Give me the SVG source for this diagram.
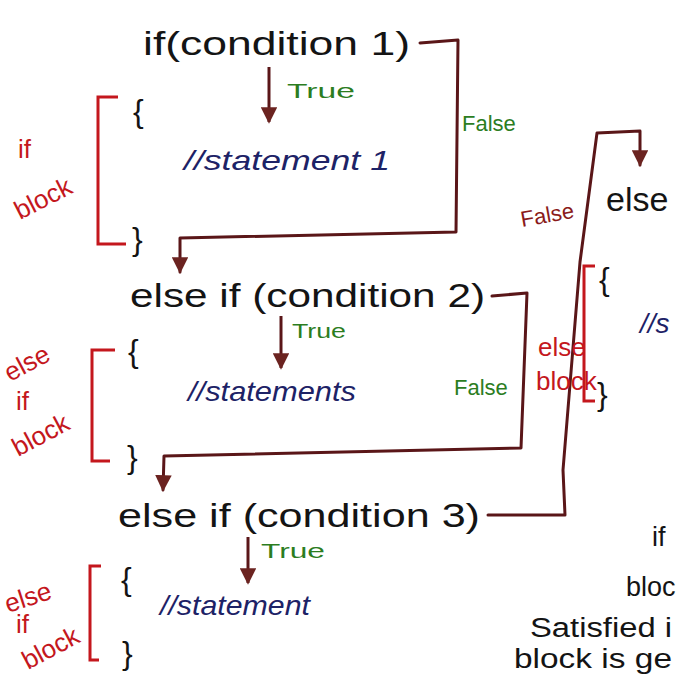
<svg xmlns="http://www.w3.org/2000/svg" width="677" height="674" viewBox="0 0 677 674">
  <defs>
    <marker id="head" viewBox="0 0 10 10" refX="9" refY="5" markerWidth="5.5" markerHeight="5.5" orient="auto" markerUnits="strokeWidth">
      <path d="M0,0 L10,5 L0,10 Z" fill="#6b2320"/>
    </marker>
    <style>
      text { font-family: "Liberation Sans", "DejaVu Sans", sans-serif; }
      .code { fill: #141414; font-size: 34px; }
      .stmt { fill: #1d2266; font-size: 28px; font-style: italic; }
      .true { fill: #2c7d1f; font-size: 21px; }
      .false { fill: #2c7d1f; font-size: 22px; }
      .lbl { fill: #c4171d; font-size: 26px; }
      .brace { fill: #141414; font-size: 32px; }
      .note { fill: #141414; font-size: 27px; }
      .edge { fill: none; stroke: #5a1618; stroke-width: 3; stroke-linejoin: round; stroke-linecap: round; }
      .arrow { fill: none; stroke: #5a1618; stroke-width: 3; }
      .bracket { fill: none; stroke: #c4171d; stroke-width: 3; stroke-linejoin: miter; }
    </style>
  </defs>

  <rect width="677" height="674" fill="#ffffff"/>

  <!-- control-flow connectors -->
  <g id="connectors">
    <!-- condition 1 false -> else if (condition 2) -->
    <path class="edge" d="M420,43 L458,40 L456,232 L180,238 L180,272" marker-end="url(#head)"/>
    <!-- condition 2 false -> else if (condition 3) -->
    <path class="edge" d="M492,296 L527,293 L521,448 L164,456 L163,490" marker-end="url(#head)"/>
    <!-- condition 3 false -> else -->
    <path class="edge" d="M488,515 L565,515 L563,470 L580,262 L597,133 L640,131 L640,165" marker-end="url(#head)"/>
    <!-- true arrows -->
    <path class="arrow" d="M269,67 L269,122" marker-end="url(#head)"/>
    <path class="arrow" d="M281,316 L281,368" marker-end="url(#head)"/>
    <path class="arrow" d="M248,537 L248,583" marker-end="url(#head)"/>
  </g>

  <!-- if (condition 1) block -->
  <g id="if-block">
    <text class="code" x="143" y="55" font-size="37" textLength="267" lengthAdjust="spacingAndGlyphs">if(condition 1)</text>
    <text class="true" x="287" y="98" textLength="68" lengthAdjust="spacingAndGlyphs">True</text>
    <text class="brace" x="133" y="122">{</text>
    <text class="stmt" x="184" y="170" textLength="206" lengthAdjust="spacingAndGlyphs">//statement 1</text>
    <text class="brace" x="132" y="250">}</text>
    <path class="bracket" d="M118,97 L98,97 L98,244 L126,244"/>
    <text class="lbl" x="18" y="158" font-size="30">if</text>
    <text class="lbl" transform="translate(20,220) rotate(-27)" font-size="29">block</text>
    <text class="false" x="462" y="131">False</text>
  </g>

  <!-- else if (condition 2) block -->
  <g id="else-if-block-1">
    <text class="code" x="130" y="307" textLength="355" lengthAdjust="spacingAndGlyphs">else if (condition 2)</text>
    <text class="true" x="292" y="338" textLength="54" lengthAdjust="spacingAndGlyphs">True</text>
    <text class="brace" x="128" y="362">{</text>
    <text class="stmt" x="188" y="401" textLength="168" lengthAdjust="spacingAndGlyphs">//statements</text>
    <text class="brace" x="127" y="468">}</text>
    <path class="bracket" d="M115,350 L92,350 L92,461 L110,461"/>
    <text class="lbl" transform="translate(10,382) rotate(-28)">else</text>
    <text class="lbl" x="16" y="410">if</text>
    <text class="lbl" transform="translate(18,457) rotate(-28)">block</text>
    <text class="false" x="454" y="395" font-size="20">False</text>
  </g>

  <!-- else if (condition 3) block -->
  <g id="else-if-block-2">
    <text class="code" x="118" y="527" textLength="362" lengthAdjust="spacingAndGlyphs">else if (condition 3)</text>
    <text class="true" x="261" y="558" textLength="64" lengthAdjust="spacingAndGlyphs">True</text>
    <text class="brace" x="121" y="590">{</text>
    <text class="stmt" x="160" y="615" textLength="150" lengthAdjust="spacingAndGlyphs">//statement</text>
    <text class="brace" x="122" y="664">}</text>
    <path class="bracket" d="M101,566 L90,566 L90,660 L99,660"/>
    <text class="lbl" transform="translate(8,613) rotate(-18)" font-size="24">else</text>
    <text class="lbl" x="16" y="633" font-size="24">if</text>
    <text class="lbl" transform="translate(28,670) rotate(-28)" font-size="24">block</text>
  </g>

  <!-- else block -->
  <g id="else-block">
    <text transform="translate(522,227) rotate(-10)" font-size="22" style="fill:#8a1a1a">False</text>
    <text class="code" x="606" y="211" font-size="34">else</text>
    <text class="brace" x="599" y="290">{</text>
    <text class="stmt" x="640" y="333" font-size="32">//s</text>
    <path class="bracket" d="M595,266 L584,266 L584,401 L595,401"/>
    <text class="lbl" x="538" y="356" font-size="20">else</text>
    <text class="lbl" x="536" y="390" font-size="20">block</text>
    <text class="brace" x="597" y="405" font-size="28">}</text>
  </g>

  <!-- side note -->
  <g id="note">
    <text class="note" x="652" y="546">if</text>
    <text class="note" x="626" y="596">bloc</text>
    <text class="note" x="530" y="637" textLength="142" lengthAdjust="spacingAndGlyphs">Satisfied i</text>
    <text class="note" x="514" y="668" textLength="158" lengthAdjust="spacingAndGlyphs">block is ge</text>
  </g>
</svg>
